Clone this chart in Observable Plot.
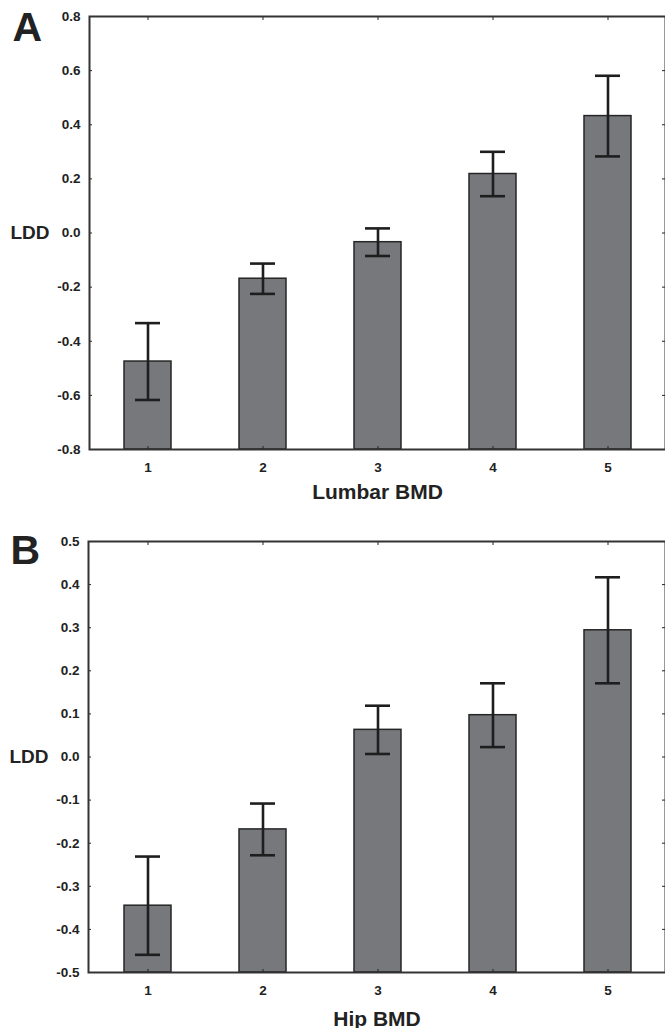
<!DOCTYPE html>
<html>
<head>
<meta charset="utf-8">
<script src="https://cdn.jsdelivr.net/npm/d3@7"></script>
<script src="https://cdn.jsdelivr.net/npm/@observablehq/plot@0.6"></script>
<style>
  html, body { margin: 0; padding: 0; background: #fff; overflow: hidden; }
  #chart svg { display: block; }
</style>
</head>
<body>
<div id="chart"></div>
<script>
// ---- data ----
const categories = [1, 2, 3, 4, 5];

const lumbarMean = [-0.475, -0.169, -0.034, 0.218, 0.432];
const lumbarErr  = [0.142, 0.056, 0.051, 0.082, 0.149];

const hipMean = [-0.345, -0.168, 0.063, 0.097, 0.294];
const hipErr  = [0.114, 0.060, 0.056, 0.074, 0.123];

const yTicksA = [-0.8, -0.6, -0.4, -0.2, 0.0, 0.2, 0.4, 0.6, 0.8];
const yTicksB = [-0.5, -0.4, -0.3, -0.2, -0.1, 0.0, 0.1, 0.2, 0.3, 0.4, 0.5];

const panelA = { letter: "A", xTitle: "Lumbar BMD", yLabel: "LDD", means: lumbarMean, errs: lumbarErr, yTicks: yTicksA };
const panelB = { letter: "B", xTitle: "Hip BMD",    yLabel: "LDD", means: hipMean,    errs: hipErr,    yTicks: yTicksB };

function panel(p, lay) {
  const data = categories.map((c, i) => ({
    cat: c, mean: p.means[i], lo: p.means[i] - p.errs[i], hi: p.means[i] + p.errs[i]
  }));
  const yDomain = [p.yTicks[0], p.yTicks[p.yTicks.length - 1]];
  const ink = "#1e1e1e";
  return Plot.plot({
    width: 665,
    height: lay.height,
    marginLeft: lay.left,
    marginRight: 0,
    marginTop: lay.top,
    marginBottom: lay.bottom,
    style: {
      fontFamily: "'Liberation Sans', Arial, Helvetica, sans-serif",
      fontWeight: "bold",
      fontSize: "13px",
      color: "#222",
      background: "white",
      overflow: "hidden"
    },
    x: { type: "band", domain: categories, range: [lay.left, 667], paddingInner: 0.59, paddingOuter: 0.295 },
    y: { domain: yDomain },
    marks: [
      Plot.barY(data, { x: "cat", y1: yDomain[0], y2: "mean", fill: "#77787c", stroke: "#262626", strokeWidth: 1.5 }),
      Plot.ruleX(data, { x: "cat", y1: "lo", y2: "hi", stroke: ink, strokeWidth: 2.6 }),
      Plot.tickY(data, { x: "cat", y: "lo", insetLeft: 11, insetRight: 11, stroke: ink, strokeWidth: 2.6 }),
      Plot.tickY(data, { x: "cat", y: "hi", insetLeft: 11, insetRight: 11, stroke: ink, strokeWidth: 2.6 }),
      Plot.axisY({ ticks: p.yTicks, tickFormat: d => d.toFixed(1), tickSize: -3, tickPadding: 12, label: null,
        fontSize: 13.5, fontWeight: "bold" }),
      Plot.axisY({ anchor: "right", ticks: p.yTicks, tickFormat: () => "", tickSize: -4, label: null }),
      Plot.axisX({ tickSize: -3, tickPadding: 16, label: null, fontSize: 13.5, fontWeight: "bold" }),
      Plot.axisX({ anchor: "top", tickSize: -3, tickFormat: () => "", label: null }),
      Plot.frame({ stroke: "#333", strokeWidth: 2 }),
      Plot.text([p.letter], { text: d => d, frameAnchor: "top-left", dx: lay.letterDx, dy: lay.letterDy,
        textAnchor: "start", lineAnchor: "bottom", fontSize: 41, fontWeight: "bold", fill: "#222" }),
      Plot.text([p.yLabel], { text: d => d, frameAnchor: "left", dx: -40, textAnchor: "end",
        fontSize: 19, fontWeight: "bold", fill: "#222" }),
      Plot.text([p.xTitle], { text: d => d, frameAnchor: "bottom", dy: lay.titleDy, lineAnchor: "bottom",
        fontSize: 21, fontWeight: "bold", fill: "#222" })
    ]
  });
}

const root = document.getElementById("chart");
root.append(panel(panelA, { height: 509, left: 89, top: 16, bottom: 60, titleDy: 49, letterDx: -77, letterDy: 24 }));
root.append(panel(panelB, { height: 519, left: 88, top: 32, bottom: 56, titleDy: 53, letterDx: -78, letterDy: 22 }));
</script>
</body>
</html>
